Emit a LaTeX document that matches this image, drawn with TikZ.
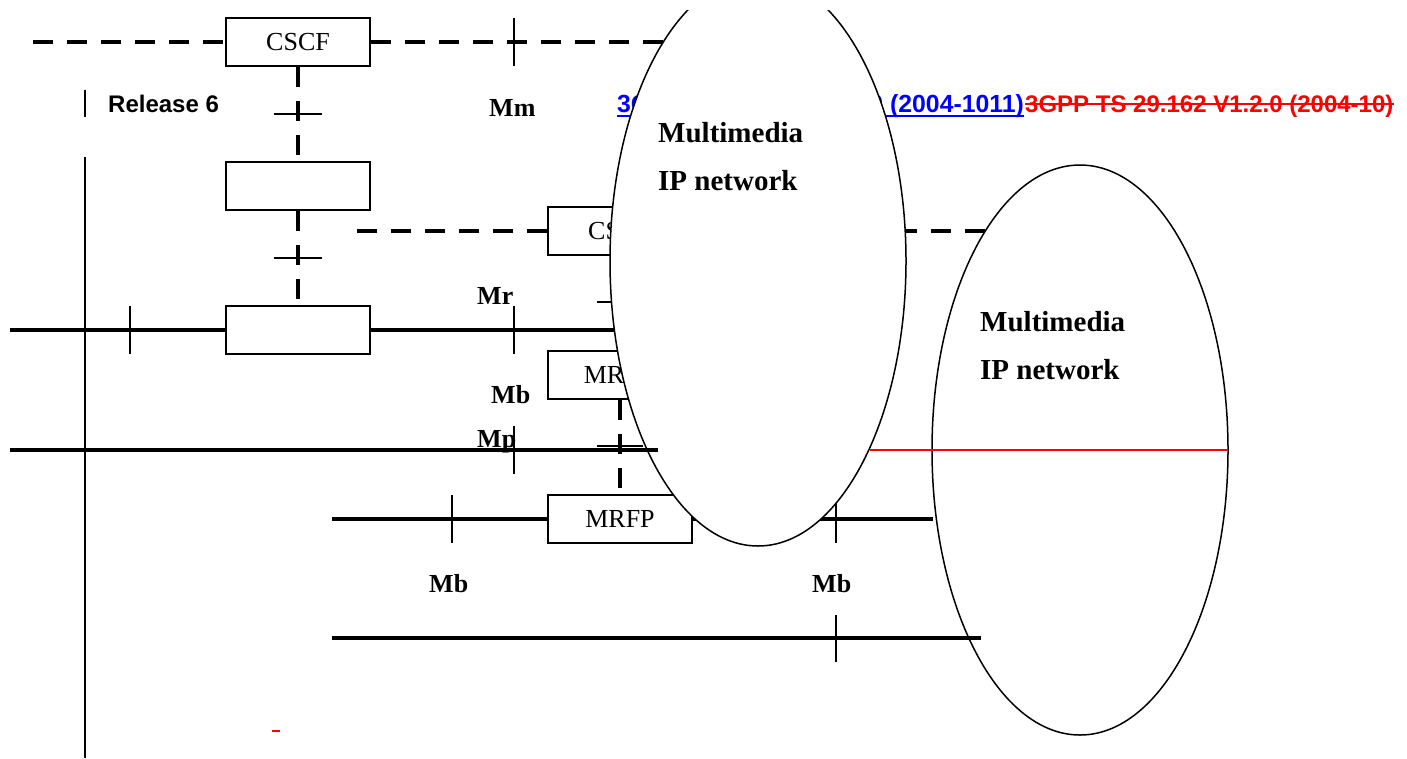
\documentclass[tikz,border=0pt]{standalone}
\usepackage{fontspec}
\setmainfont{Liberation Serif}
\newfontfamily\arialfont{Liberation Sans}
\usetikzlibrary{shapes.geometric}
\definecolor{insblue}{RGB}{0,0,255}
\definecolor{delred}{RGB}{255,0,0}

\begin{document}
\begin{tikzpicture}[x=1pt, y=-1pt,
  box/.style={draw, line width=1.5pt, fill=white, minimum width=144pt, minimum height=48pt, inner sep=0pt, font=\fontsize{26}{28}\selectfont},
  sig/.style={line width=4pt, dash pattern=on 20pt off 14pt},
  bearer/.style={line width=4pt},
  tickmark/.style={line width=1.5pt},
  iflabel/.style={anchor=base west, inner sep=0pt, font=\fontsize{26}{28}\selectfont\bfseries},
  netlabel/.style={anchor=base west, inner sep=0pt, font=\fontsize{29}{30}\selectfont\bfseries},
  cloud/.style={ellipse, draw, line width=1.5pt, fill=white, minimum width=296pt, minimum height=570pt, inner sep=0pt}]
  \fill[white] (0,0) rectangle (1407,758);
  \useasboundingbox (0,0) rectangle (1407,758);

  % boxes
  \node[box] (cscf) at (298,42) {CSCF};
  \node[box] (bgcf) at (298,186) {};
  \node[box] (mgcf) at (298,330) {};
  \node[box] (cscfb) at (620,231) {CSCF};
  \node[box] (mrfc) at (620,375) {MRFC};
  \node[box] (mrfp) at (620,519) {MRFP};

  \coordinate (mmleft) at (33,42);
  \coordinate (mmright) at (700,42);
  \coordinate (mrleft) at (10,330);
  \coordinate (mrright) at (640,330);
  \coordinate (csleft) at (356,231);
  \coordinate (csright) at (1000,231);
  \coordinate (mbleft) at (332,519);
  \coordinate (mbright) at (933,519);

  % signalling
  \draw[sig] (mmleft) -- (cscf.west);
  \draw[sig] (cscf.east) -- (mmright);
  \draw[sig] (cscf.south) -- (bgcf.north);
  \draw[sig] (bgcf.south) -- (mgcf.north);
  \draw[sig] (cscfb.west) -- (csleft);
  \draw[sig] (cscfb.east) -- (csright);
  \draw[sig] (cscfb.south) -- (mrfc.north);
  \draw[sig] (mrfc.south) -- (mrfp.north);

  % bearer
  \draw[bearer] (mrleft) -- (mgcf.west);
  \draw[bearer] (mgcf.east) -- (mrright);
  \draw[bearer] (mbleft) -- (mrfp.west);
  \draw[bearer] (mrfp.east) -- (mbright);

  % ticks
  \draw[tickmark] (514,18) -- (514,66);
  \draw[tickmark] (274,114) -- (322,114);
  \draw[tickmark] (274,258) -- (322,258);
  \draw[tickmark] (130,306) -- (130,354);
  \draw[tickmark] (514,306) -- (514,354);
  \draw[tickmark] (597,302) -- (643,302);
  \draw[tickmark] (452,495) -- (452,543);
  \draw[tickmark] (836,495) -- (836,543);
  \draw[tickmark] (836,615) -- (836,662);
  \draw[tickmark] (85,90) -- (85,117);
  \draw[line width=2pt] (85,157) -- (85,758);

  % header
  \node[anchor=base west, inner sep=0pt, font=\arialfont\fontsize{24}{26}\selectfont\bfseries] (rel) at (108,112) {Release 6};
  \node[anchor=base west, inner sep=0pt, insblue, font=\arialfont\fontsize{24.8}{26}\selectfont\bfseries] (ins) at (617,112) {3GPP TS 29.162 V6.0.0 (2004-1011)};
  \node[anchor=base west, inner sep=0pt, delred, font=\arialfont\fontsize{24}{26}\selectfont\bfseries] (del) at (1025,112) {3GPP TS 29.162 V1.2.0 (2004-10)};
  \draw[insblue, line width=2.5pt] ([yshift=-4pt]ins.base west) -- ([yshift=-4pt]ins.base east);
  \draw[delred, line width=2.5pt] ([yshift=8pt]del.base west) -- ([yshift=8pt]del.base east);

  % networks
  \begin{scope}
    \clip (0,10) rectangle (1407,758);
    \node[cloud] (net1) at (758,261) {};
  \end{scope}
  \node[cloud] (net2) at (1080,450) {};

  \coordinate (mpleft) at (10,450);
  \coordinate (mpright) at (658,450);
  \draw[bearer] (mpleft) -- (mpright);
  \draw[tickmark] (514,426) -- (514,474);
  \draw[tickmark] (597,446) -- (643,446);
  \draw[delred, line width=1.5pt] (870,450) -- (1228,450);
  \draw[bearer] (332,638) -- (981,638);
  \draw[delred, line width=1.5pt] (272,731) -- (280,731);

  % labels
  \node[iflabel] (mm) at (489,116) {Mm};
  \node[iflabel] (mr) at (477,304) {Mr};
  \node[iflabel] (mb1) at (491,403) {Mb};
  \node[iflabel] (mp) at (477,447) {Mp};
  \node[iflabel] (mb2) at (429,592) {Mb};
  \node[iflabel] (mb3) at (812,592) {Mb};
  \node[netlabel] (n1a) at (658,142) {Multimedia};
  \node[netlabel] (n1b) at (658,190) {IP network};
  \node[netlabel] (n2a) at (980,331) {Multimedia};
  \node[netlabel] (n2b) at (980,379) {IP network};
\end{tikzpicture}
\end{document}
